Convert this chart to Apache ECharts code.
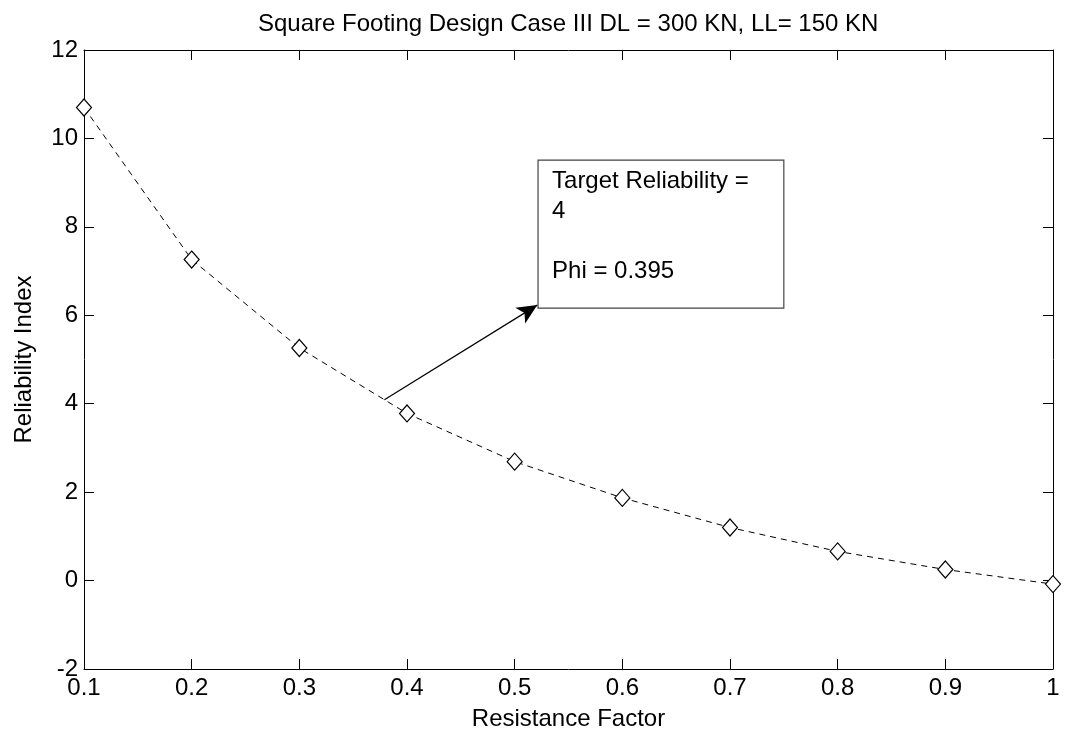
<!DOCTYPE html>
<html>
<head>
<meta charset="utf-8">
<script src="https://cdn.jsdelivr.net/npm/echarts@6/dist/echarts.min.js"></script>
<style>
  html, body { margin: 0; padding: 0; background: #fff; }
  #chart { width: 1065px; height: 736px; }
</style>
</head>
<body>
<div id="chart"></div>
<script>
// Reliability index against resistance factor
const resistanceFactor = [0.1, 0.2, 0.3, 0.4, 0.5, 0.6, 0.7, 0.8, 0.9, 1.0];
const reliabilityIndex = [10.70, 7.26, 5.26, 3.78, 2.69, 1.87, 1.20, 0.66, 0.25, -0.08];
const yTicks = [-2, 0, 2, 4, 6, 8, 10, 12];

// Annotation: arrow from the curve to the text box
const arrowStart = [0.379, 4.09];
const arrowEnd = [0.521, 6.23];
const boxTopLeft = [0.5217, 9.51];
const boxBottomRight = [0.750, 6.16];
const noteLines = ['Target Reliability =', '4', '', 'Phi = 0.395'];

const FONT = '"Liberation Sans", Arial, sans-serif';
const FS = 24;
const chart = echarts.init(document.getElementById('chart'));

const axisLineStyle = { color: '#000', width: 1 };

const option = {
  animation: false,
  backgroundColor: '#fff',
  textStyle: { fontFamily: FONT },
  title: {
    text: 'Square Footing Design Case III DL = 300 KN, LL= 150 KN',
    left: 258,
    top: 12,
    padding: 0,
    textStyle: { fontFamily: FONT, fontSize: FS, fontWeight: 'normal', color: '#000' }
  },
  grid: { left: 84, right: 12, top: 50, bottom: 66 },
  xAxis: [{
    type: 'value',
    min: 0.1, max: 1, interval: 0.1,
    name: 'Resistance Factor',
    nameLocation: 'middle',
    nameGap: 38,
    nameTextStyle: { fontFamily: FONT, fontSize: FS, color: '#000' },
    axisLine: { show: true, onZero: false, lineStyle: axisLineStyle },
    axisTick: { show: true, inside: true, length: 10, lineStyle: axisLineStyle },
    axisLabel: {
      fontFamily: FONT, fontSize: FS, color: '#000', margin: 7,
      formatter: v => String(Math.round(v * 10) / 10)
    },
    splitLine: { show: false }
  }, {
    type: 'value', position: 'top',
    min: 0.1, max: 1, interval: 0.1,
    axisLine: { show: true, onZero: false, lineStyle: axisLineStyle },
    axisTick: { show: true, inside: true, length: 10, lineStyle: axisLineStyle },
    axisLabel: { show: false },
    splitLine: { show: false }
  }],
  yAxis: [{
    type: 'value',
    min: -2, max: 12, interval: 2,
    name: 'Reliability Index',
    nameLocation: 'middle',
    nameGap: 48,
    nameTextStyle: { fontFamily: FONT, fontSize: FS, color: '#000' },
    axisLine: { show: true, onZero: false, lineStyle: axisLineStyle },
    axisTick: { show: true, inside: true, length: 10, lineStyle: axisLineStyle },
    axisLabel: {
      fontFamily: FONT, fontSize: FS, color: '#000', margin: 6,
      customValues: yTicks
    },
    splitLine: { show: false }
  }, {
    type: 'value', position: 'right',
    min: -2, max: 12, interval: 2,
    axisLine: { show: true, onZero: false, lineStyle: axisLineStyle },
    axisTick: { show: true, inside: true, length: 10, lineStyle: axisLineStyle },
    axisLabel: { show: false },
    splitLine: { show: false }
  }],
  series: [{
    type: 'line',
    data: resistanceFactor.map((x, i) => [x, reliabilityIndex[i]]),
    symbol: 'diamond',
    symbolSize: [15, 17],
    showAllSymbol: true,
    lineStyle: { color: '#000', width: 1, type: [6, 5] },
    itemStyle: { color: '#fff', borderColor: '#000', borderWidth: 1.2 },
    z: 3,
    markLine: {
      silent: true,
      symbol: ['none', 'arrow'],
      symbolSize: [14, 20],
      label: { show: false },
      lineStyle: { color: '#000', width: 1.2, type: 'solid' },
      data: [[{ coord: arrowStart }, { coord: arrowEnd }]]
    }
  }]
};
chart.setOption(option);

// Text box anchored in data coordinates
function drawNote() {
  const p0 = chart.convertToPixel({ gridIndex: 0 }, boxTopLeft);
  const p1 = chart.convertToPixel({ gridIndex: 0 }, boxBottomRight);
  chart.setOption({
    graphic: [{
      type: 'group',
      x: p0[0], y: p0[1],
      children: [{
        type: 'rect',
        shape: { x: 0, y: 0, width: p1[0] - p0[0], height: p1[1] - p0[1] },
        style: { fill: '#fff', stroke: '#444', lineWidth: 1.2 }
      }, {
        type: 'text',
        x: 14, y: 6,
        style: {
          text: noteLines.join('\n'),
          font: FS + 'px ' + FONT,
          fill: '#000',
          lineHeight: 30
        }
      }]
    }]
  });
}
drawNote();
</script>
</body>
</html>
